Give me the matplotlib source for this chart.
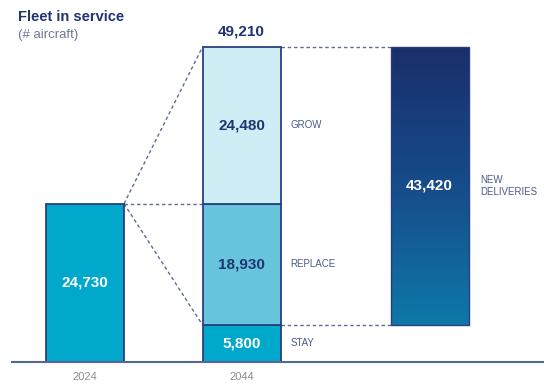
import numpy as np
import matplotlib.pyplot as plt
from matplotlib.patches import Rectangle
from matplotlib.colors import LinearSegmentedColormap

plt.rcParams['font.family'] = ['Liberation Sans', 'DejaVu Sans']

# fleet figures (# aircraft)
years = ["2024", "2044"]
fleet_2024 = 24730
segments = ["STAY", "REPLACE", "GROW"]
segment_values = [5800, 18930, 24480]
fleet_2044 = 49210
new_deliveries = 43420

navy = "#1F3470"
edge = "#2B3F7E"
label_col = "#4B5A8C"
seg_colors = ["#00A8CC", "#66C4DD", "#CDEEF4"]
seg_text = ["white", "#1F3470", "#1F3470"]

fig = plt.figure(figsize=(5.44, 3.9), dpi=100)
ax = fig.add_axes([0, 28 / 390, 1, 362 / 390])
ax.axis("off")

x24, x44, xnew = 85, 241.5, 429.5
w = 78

# 2024 bar
ax.bar(x24, fleet_2024, width=w, color="#00A8CC", edgecolor=edge, linewidth=1.3, zorder=3)
ax.text(x24, fleet_2024 / 2, f"{fleet_2024:,}", color="white", fontsize=11,
        fontweight="bold", ha="center", va="center", zorder=4)

# 2044 stacked bar
bottom = 0
for name, val, col, tc in zip(segments, segment_values, seg_colors, seg_text):
    ax.bar(x44, val, width=w, bottom=bottom, color=col, edgecolor=edge, linewidth=1.3, zorder=3)
    ax.text(x44, bottom + val / 2, f"{val:,}", color=tc, fontsize=11,
            fontweight="bold", ha="center", va="center", zorder=4)
    ax.text(x44 + w / 2 + 10, bottom + val / 2, name, color=label_col, fontsize=7,
            ha="left", va="center")
    bottom += val
ax.text(x44, fleet_2044 + 1400, f"{fleet_2044:,}", color=navy, fontsize=11,
        fontweight="bold", ha="center", va="bottom")

# new deliveries bar with a vertical gradient
stay = segment_values[0]
grad = LinearSegmentedColormap.from_list("nd", ["#0E78A8", "#164C8A", "#1A2F6C"])
img = ax.imshow(np.linspace(0, 1, 256).reshape(-1, 1), cmap=grad, aspect="auto",
                origin="lower", extent=(xnew - w / 2, xnew + w / 2, stay, stay + new_deliveries),
                zorder=3)
rect = Rectangle((xnew - w / 2, stay), w, new_deliveries, facecolor="none",
                 edgecolor=edge, linewidth=1, zorder=4)
ax.add_patch(rect)
img.set_clip_path(rect)
ax.text(xnew, stay + new_deliveries / 2, f"{new_deliveries:,}", color="white", fontsize=11,
        fontweight="bold", ha="center", va="center", zorder=5)
ax.text(xnew + w / 2 + 12, stay + new_deliveries / 2, "NEW\nDELIVERIES", color=label_col,
        fontsize=7, ha="left", va="center", linespacing=1.2)

ax.set_xlim(0, 544)
ax.set_ylim(0, fleet_2044 * 362 / 315)

# dashed connectors
dash = dict(color="#5E6B96", linestyle=(0, (2.5, 2)), linewidth=1, zorder=2)
x0 = x24 + w / 2
x1 = x44 - w / 2
for yv in [fleet_2044, fleet_2024, stay]:
    ax.plot([x0, x1], [fleet_2024, yv], **dash)
x2 = x44 + w / 2
x3 = xnew - w / 2
for yv in [fleet_2044, stay]:
    ax.plot([x2, x3], [yv, yv], **dash)

# baseline and year labels
ax.plot([12, 544], [0, 0], color="#56659A", linewidth=1.5, clip_on=False, zorder=5)
for xv, yr in zip([x24, x44], years):
    ax.text(xv, -2300, yr, color="#8A8A8A", fontsize=8, ha="center", va="center", clip_on=False)

# title
fig.text(18 / 544, 1 - 17 / 390, "Fleet in service", color=navy, fontsize=10.5,
         fontweight="bold", ha="left", va="center")
fig.text(18 / 544, 1 - 35 / 390, "(# aircraft)", color="#6D7795", fontsize=9.5,
         ha="left", va="center")

fig.savefig("out.png", dpi=100)
